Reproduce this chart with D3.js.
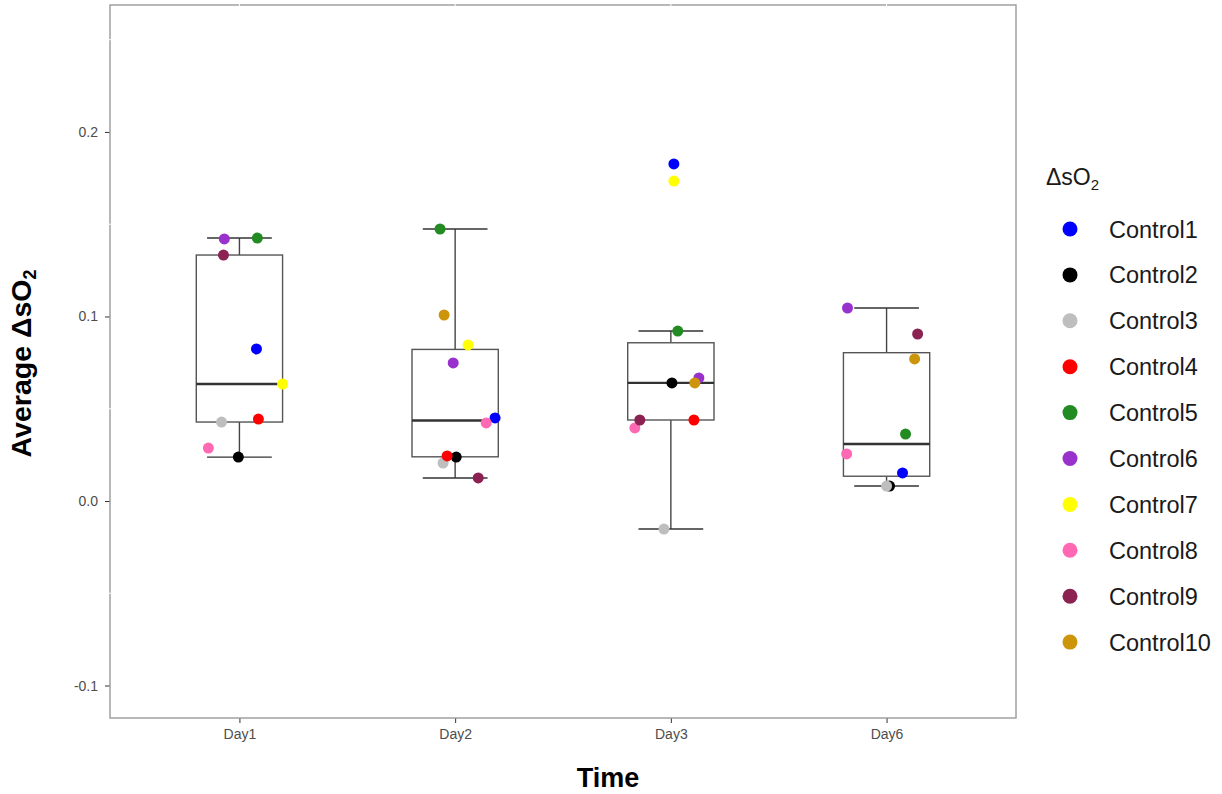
<!DOCTYPE html>
<html lang="en">
<head>
<meta charset="utf-8">
<title>Average delta sO2 over time</title>
<script src="https://d3js.org/d3.v7.min.js"></script>
<style>
  body { margin: 0; background: #fff; font-family: "Liberation Sans", Arial, sans-serif; }
  .tick text { fill: #4d4d4d; }
</style>
</head>
<body>
<script>
// ---- data ----
var days = ["Day1", "Day2", "Day3", "Day6"];
var controls = ["Control1", "Control2", "Control3", "Control4", "Control5",
                "Control6", "Control7", "Control8", "Control9", "Control10"];
var colors = ["#0000ff", "#000000", "#bebebe", "#ff0000", "#228b22",
              "#9932cc", "#ffff00", "#ff69b4", "#8b2252", "#cd950c"];
// one row per control, one value per day (null = no point)
var values = [
  [0.0824, 0.0450, 0.1827, 0.0152],
  [0.0238, 0.0238, 0.0640, 0.0081],
  [0.0428, 0.0206, -0.0152, 0.0081],
  [0.0444, 0.0244, 0.0439, null],
  [0.1425, 0.1474, 0.0921, 0.0363],
  [0.1420, 0.0748, 0.0667, 0.1046],
  [0.0634, 0.0846, 0.1734, null],
  [0.0287, 0.0423, 0.0396, 0.0255],
  [0.1333, 0.0125, 0.0439, 0.0905],
  [null, 0.1008, 0.0640, 0.0770]
];
// horizontal jitter of each point, in category units
var jitter = [
  [0.079, 0.185, 0.014, 0.074],
  [-0.005, 0.005, 0.005, 0.014],
  [-0.083, -0.056, -0.032, 0.000],
  [0.088, -0.037, 0.107, 0],
  [0.083, -0.070, 0.032, 0.088],
  [-0.070, -0.009, 0.130, -0.181],
  [0.200, 0.060, 0.014, 0],
  [-0.144, 0.144, -0.167, -0.185],
  [-0.074, 0.107, -0.144, 0.144],
  [0, -0.051, 0.111, 0.130]
];
var yTicks = [-0.1, 0.0, 0.1, 0.2];
var yMinor = [-0.05, 0.05, 0.15, 0.25];

// ---- layout ----
var W = 1222, H = 794;
var panel = {left: 110, right: 1016, top: 5, bottom: 718};

var svg = d3.select("body").append("svg")
    .attr("width", W).attr("height", H);

var x = d3.scalePoint()
    .domain(days)
    .range([panel.left, panel.right])
    .padding(0.6);
var step = x.step();

var y = d3.scaleLinear()
    .domain([-0.1176, 0.2688])
    .range([panel.bottom, panel.top]);

// flatten points
var points = [];
controls.forEach(function(c, i) {
  days.forEach(function(d, j) {
    if (values[i][j] !== null) {
      points.push({control: c, day: d, value: values[i][j], jit: jitter[i][j], color: colors[i]});
    }
  });
});

// box statistics per day
var stats = days.map(function(d) {
  var v = points.filter(function(p) { return p.day === d; })
                .map(function(p) { return p.value; })
                .sort(d3.ascending);
  var q1 = d3.quantile(v, 0.25), med = d3.quantile(v, 0.5), q3 = d3.quantile(v, 0.75);
  var iqr = q3 - q1;
  var lo = d3.min(v.filter(function(a) { return a >= q1 - 1.5 * iqr; }));
  var hi = d3.max(v.filter(function(a) { return a <= q3 + 1.5 * iqr; }));
  return {day: d, q1: q1, med: med, q3: q3, lo: lo, hi: hi};
});

// axes
var yAxis = svg.append("g")
    .attr("transform", "translate(" + panel.left + ",0)")
    .call(d3.axisLeft(y).tickValues(yTicks).tickSize(5).tickPadding(7)
          .tickFormat(function(d) { return d.toFixed(1); }));
yAxis.select(".domain").remove();
yAxis.selectAll("line").attr("stroke", "#333");
yAxis.selectAll("text").style("font-size", "14px");

var xAxis = svg.append("g")
    .attr("transform", "translate(0," + panel.bottom + ")")
    .call(d3.axisBottom(x).tickSize(5).tickPadding(6));
xAxis.select(".domain").remove();
xAxis.selectAll("line").attr("stroke", "#333");
xAxis.selectAll("text").style("font-size", "14px");

// panel border
svg.append("rect")
    .attr("x", panel.left).attr("y", panel.top)
    .attr("width", panel.right - panel.left)
    .attr("height", panel.bottom - panel.top)
    .attr("fill", "none")
    .attr("stroke", "#9a9a9a")
    .attr("stroke-width", 1.4);

// faint grid gaps on the border
svg.selectAll(".gapY").data(yMinor).enter().append("line")
    .attr("x1", panel.left - 1.5).attr("x2", panel.left + 1.5)
    .attr("y1", function(d) { return y(d); }).attr("y2", function(d) { return y(d); })
    .attr("stroke", "#fff").attr("stroke-width", 1);
svg.selectAll(".gapX").data(days).enter().append("line")
    .attr("y1", panel.top - 1.5).attr("y2", panel.top + 1.5)
    .attr("x1", function(d) { return x(d); }).attr("x2", function(d) { return x(d); })
    .attr("stroke", "#fff").attr("stroke-width", 1);

// boxplots
var boxW = 0.4 * step, capW = 0.3 * step;
var g = svg.selectAll(".box").data(stats).enter().append("g").attr("class", "box");

g.append("line") // upper whisker
    .attr("x1", function(d) { return x(d.day); }).attr("x2", function(d) { return x(d.day); })
    .attr("y1", function(d) { return y(d.q3); }).attr("y2", function(d) { return y(d.hi); })
    .attr("stroke", "#444").attr("stroke-width", 1.4);
g.append("line") // lower whisker
    .attr("x1", function(d) { return x(d.day); }).attr("x2", function(d) { return x(d.day); })
    .attr("y1", function(d) { return y(d.q1); }).attr("y2", function(d) { return y(d.lo); })
    .attr("stroke", "#444").attr("stroke-width", 1.4);
g.append("line") // top cap
    .attr("x1", function(d) { return x(d.day) - capW / 2; }).attr("x2", function(d) { return x(d.day) + capW / 2; })
    .attr("y1", function(d) { return y(d.hi); }).attr("y2", function(d) { return y(d.hi); })
    .attr("stroke", "#333").attr("stroke-width", 1.4);
g.append("line") // bottom cap
    .attr("x1", function(d) { return x(d.day) - capW / 2; }).attr("x2", function(d) { return x(d.day) + capW / 2; })
    .attr("y1", function(d) { return y(d.lo); }).attr("y2", function(d) { return y(d.lo); })
    .attr("stroke", "#333").attr("stroke-width", 1.4);
g.append("rect")
    .attr("x", function(d) { return x(d.day) - boxW / 2; })
    .attr("y", function(d) { return y(d.q3); })
    .attr("width", boxW)
    .attr("height", function(d) { return y(d.q1) - y(d.q3); })
    .attr("fill", "#fff").attr("stroke", "#555").attr("stroke-width", 1.4);
g.append("line") // median
    .attr("x1", function(d) { return x(d.day) - boxW / 2; }).attr("x2", function(d) { return x(d.day) + boxW / 2; })
    .attr("y1", function(d) { return y(d.med); }).attr("y2", function(d) { return y(d.med); })
    .attr("stroke", "#333").attr("stroke-width", 2.4);

// jittered points
svg.selectAll(".pt").data(points).enter().append("circle")
    .attr("class", "pt")
    .attr("cx", function(d) { return x(d.day) + d.jit * step; })
    .attr("cy", function(d) { return y(d.value); })
    .attr("r", 5.5)
    .attr("fill", function(d) { return d.color; });

// axis titles
svg.append("text")
    .attr("x", 608).attr("y", 787)
    .attr("text-anchor", "middle")
    .style("font-size", "27px").style("font-weight", "bold")
    .text("Time");

var yt = svg.append("text")
    .attr("transform", "translate(31," + ((panel.top + panel.bottom) / 2 + 2) + ") rotate(-90)")
    .attr("text-anchor", "middle")
    .style("font-size", "28.5px").style("font-weight", "bold");
yt.append("tspan").text("Average \u0394sO");
yt.append("tspan").attr("dy", 5).style("font-size", "18px").text("2");

// legend
var lt = svg.append("text")
    .attr("x", 1046).attr("y", 185)
    .style("font-size", "23px").attr("fill", "#1a1a1a");
lt.append("tspan").text("\u0394sO");
lt.append("tspan").attr("dy", 5).style("font-size", "15px").text("2");

var leg = svg.selectAll(".leg").data(controls).enter().append("g")
    .attr("transform", function(d, i) { return "translate(0," + (229 + i * 45.9) + ")"; });
leg.append("circle")
    .attr("cx", 1070).attr("cy", 0).attr("r", 7.5)
    .attr("fill", function(d, i) { return colors[i]; });
leg.append("text")
    .attr("x", 1109).attr("y", 8.5)
    .style("font-size", "23.5px").attr("fill", "#1a1a1a")
    .text(function(d) { return d; });
</script>
</body>
</html>
